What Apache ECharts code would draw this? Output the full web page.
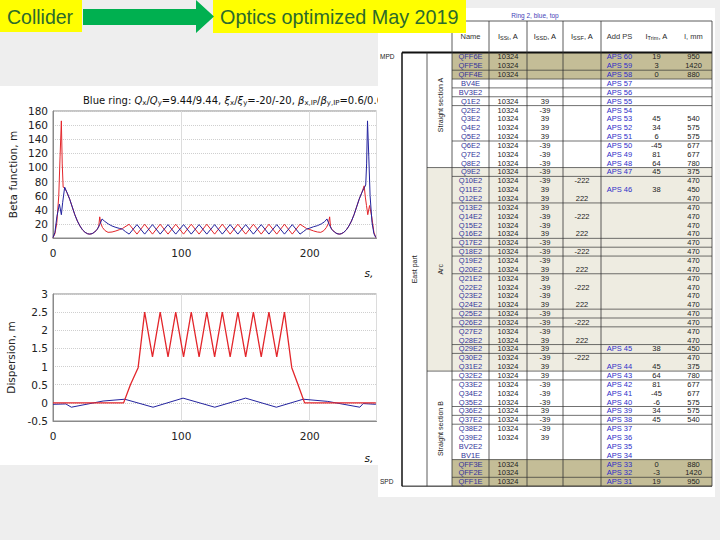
<!DOCTYPE html>
<html><head><meta charset="utf-8">
<script src="https://cdn.jsdelivr.net/npm/echarts@6/dist/echarts.min.js"></script>
<style>html,body{margin:0;padding:0;background:#fff}#c{width:720px;height:540px}</style>
</head><body><div id="c"></div>
<script>
// ---------- Beta functions (s in m, beta in m) ----------
const sBx = [0,1.5,3,4.5,5.5,6.5,7.2,7.9,9.1,11,13,15,17,19,21,23,25,27,28.6,30.5,32.5,34.5,35.6,36.4,37.2,38.5,40.5,42.9,46,49,52,54.1,59.3,
  65.4,71.4,77.5,83.5,89.6,95.6,101.7,107.7,113.8,119.8,125.9,131.9,138,144,150.1,156.1,162.2,168.2,174.3,180.3,186.4,192.4,
  197.5,200,203,206,208.6,211,213,214.6,215.5,216.2,217.2,219.2,221.2,223,224.5,226.5,228.5,230.5,232.5,234.5,236.5,238.5,240.5,
  242.4,243.3,244.2,245.2,246.6,248.3,250,251.5];
const betaX = [0.6,6,22,60,115,166,105,72,71,64,55,44,33,24,17,11.5,8,6,5.5,6.2,8.5,12.5,16,30,21,15,10.5,8,8.5,10,12,13.5,19.5,
  5.5,19.5,5.5,19.5,5.5,19.5,5.5,19.5,5.5,19.5,5.5,19.5,5.5,19.5,5.5,19.5,5.5,19.5,5.5,19.5,5.5,19.5,
  13.5,12,10,8.5,8,10.5,15,21,30,16,12.5,8.5,6.2,5.5,6,8,11.5,17,24,33,44,55,64,
  74,58,46,33,46,30,8,0.6];
const sBy = [0,1.5,3,5,6.5,7.5,9.1,11,13,15,17,19,21,23,25,27,28.6,30.5,32.5,34.5,36.4,38.2,40,43,46,49,52,54.1,56.5,59.3,
  65.4,71.4,77.5,83.5,89.6,95.6,101.7,107.7,113.8,119.8,125.9,131.9,138,144,150.1,156.1,162.2,168.2,174.3,180.3,186.4,192.4,
  195,197.5,200,203,206,209,211.5,213.4,215.2,217,219.2,221.2,223,224.5,226.5,228.5,230.5,232.5,234.5,236.5,238.5,240.5,
  242.4,243.6,244.3,245,246,247,248.5,250,251.5];
const betaY = [0.6,8,30,48,33,50,72,64,55,44,33,24,17,11.5,8,6,5.5,6.2,8.5,12.5,19,27,24,20,17,15,13.5,12.5,9,5.5,
  19,5.5,19,5.5,19,5.5,19,5.5,19,5.5,19,5.5,19,5.5,19,5.5,19,5.5,19,5.5,19,5.5,
  9,12.5,14,16,17.5,20,23,27,19,12.5,8.5,6.2,5.5,6,8,11.5,17,24,33,44,55,64,
  71,75,105,166,115,60,22,6,0.6];
// ---------- Dispersion ----------
const sDx = [0,55,60.3,66.3,71.4,77.5,83.5,89.6,95.6,101.7,107.7,113.8,119.8,125.9,131.9,138,144,150.1,156.1,162.2,168.2,174.3,180.3,186,190.9,196,251.5];
const dispX = [0,0,0.5,0.97,2.5,1.27,2.5,1.27,2.5,1.27,2.5,1.27,2.5,1.27,2.5,1.27,2.5,1.27,2.5,1.27,2.5,1.27,2.5,0.97,0.5,0,0];
const sDy = [0,10,14.3,39,55.9,77.9,101.3,126,150,174,194.9,214,239,241.6,251.5];
const dispY = [-0.04,-0.03,-0.12,0.05,0.1,-0.12,0.13,-0.12,0.13,-0.12,0.1,0.04,-0.12,-0.02,-0.04];

// ---------- Table ----------
const tblHeader = ['Name','I|SSt|, A','I|SSD|, A','I|SSF|, A','Add PS','I|Trim|, A','l, mm'];
const tblNames = ['QFF6E','QFF5E','QFF4E','BV4E','BV3E2','Q1E2','Q2E2','Q3E2','Q4E2','Q5E2','Q6E2','Q7E2','Q8E2',
  'Q9E2','Q10E2','Q11E2','Q12E2','Q13E2','Q14E2','Q15E2','Q16E2','Q17E2','Q18E2','Q19E2','Q20E2','Q21E2','Q22E2','Q23E2',
  'Q24E2','Q25E2','Q26E2','Q27E2','Q28E2','Q29E2','Q30E2','Q31E2',
  'Q32E2','Q33E2','Q34E2','Q35E2','Q36E2','Q37E2','Q38E2','Q39E2','BV2E2','BV1E','QFF3E','QFF2E','QFF1E'];
const tblI1 = ['10324','10324','10324','','','10324','10324','10324','10324','10324','10324','10324','10324',
  '10324','10324','10324','10324','10324','10324','10324','10324','10324','10324','10324','10324','10324','10324','10324',
  '10324','10324','10324','10324','10324','10324','10324','10324',
  '10324','10324','10324','10324','10324','10324','10324','10324','','','10324','10324','10324'];
const tblI2 = ['','','','','','39','-39','39','39','39','-39','-39','-39',
  '-39','-39','39','39','39','-39','-39','39','-39','-39','-39','39','39','-39','-39',
  '39','-39','-39','-39','39','39','-39','39',
  '39','-39','-39','-39','39','-39','-39','39','','','','',''];
const tblI3 = ['','','','','','','','','','','','','',
  '','-222','','222','','-222','','222','','-222','','222','','-222','',
  '222','','-222','','222','','-222','',
  '','','','','','','','','','','','',''];
const tblPS = ['APS 60','APS 59','APS 58','APS 57','APS 56','APS 55','APS 54','APS 53','APS 52','APS 51','APS 50','APS 49','APS 48',
  'APS 47','','APS 46','','','','','','','','','','','','',
  '','','','','','APS 45','','APS 44',
  'APS 43','APS 42','APS 41','APS 40','APS 39','APS 38','APS 37','APS 36','APS 35','APS 34','APS 33','APS 32','APS 31'];
const tblTrim = ['19','3','0','','','','','45','34','6','-45','81','64',
  '45','','38','','','','','','','','','','','','',
  '','','','','','38','','45',
  '64','81','-45','-6','34','45','','','','','0','-3','19'];
const tblLen = ['950','1420','880','','','','','540','575','575','677','677','780',
  '375','470','450','470','470','470','470','470','470','470','470','470','470','470','470',
  '470','470','470','470','470','450','470','375',
  '780','677','677','575','575','540','','','','','880','1420','950'];

const zip = (a, b) => a.map((v, i) => [v, b[i]]);
const FONT = 'DejaVu Sans';
const RED = '#e3262b', BLUE = '#23239e';

const G = [];
function rect(x, y, w, h, fill, z, stroke) {
  G.push({type:'rect', z:z, silent:true, shape:{x:x, y:y, width:w, height:h},
    style:{fill:fill, stroke:stroke || null, lineWidth:stroke ? 1 : 0}});
}
function hl(x1, y1, x2, y2, w, color, z) {
  G.push({type:'line', z:z || 12, silent:true, shape:{x1:x1, y1:y1, x2:x2, y2:y2},
    style:{stroke:color || '#222', lineWidth:w || 0.8}});
}
function txt(x, y, t, o) {
  o = o || {};
  const st = {text:t, x:0, y:0, fill:o.color || '#222',
    textAlign:o.align || 'center', textVerticalAlign:o.va || 'middle',
    align:o.align || 'center', verticalAlign:o.va || 'middle'};
  if (o.rich) { st.rich = o.rich; st.fontSize = o.size || 7.5; st.fontFamily = o.family || 'Liberation Sans'; }
  else { st.font = (o.style || '') + ' ' + (o.size || 7.5) + 'px "' + (o.family || 'Liberation Sans') + '"'; }
  G.push({type:'text', z:o.z || 13, silent:true, x:x, y:y, rotation:o.rot || 0, style:st});
}

// slide background areas
const GREY = '#eeeeee';
rect(0, 0, 378, 86, GREY, 10);
rect(0, 465, 378, 75, GREY, 10);
rect(378, 497, 342, 43, GREY, 10);
rect(715, 0, 5, 540, GREY, 10);
rect(378, 0, 342, 8, GREY, 10);
// table picture
rect(378, 8, 337, 489, '#ffffff', 10);

const TOP = 52.5, RH = 8.85, NR = tblNames.length, BOT = TOP + NR * RH;
const CX = [470.5, 508, 545, 582, 619.5, 656.5, 693.5];
// shading
rect(427, TOP + 13 * RH, 712 - 427, 23 * RH, '#eeece1', 11);
rect(452, TOP, 260, 3 * RH, '#c4bd97', 11);
rect(452, TOP + 46 * RH, 260, 3 * RH, '#c4bd97', 11);
// rules
const rowRules = [1,2,3,4,5,9,12,13,16,20,21,22,24,28,29,30,32,33,35,36,39,40,41,45,47];
rowRules.forEach(i => {
  const y = TOP + (i + 1) * RH;
  hl((i === 12 || i === 35) ? 427 : 452, y, 712, y, 0.7, '#333');
});
hl(402, TOP, 712, TOP, 2, '#111');
hl(402, BOT, 712, BOT, 1, '#111');
hl(452, 21, 712, 21, 0.8, '#333');
hl(402, TOP, 402, BOT, 1.5, '#111');
hl(427, TOP, 427, BOT, 0.8, '#333');
[452, 489, 527, 563, 601, 712].forEach(x => hl(x, 21, x, BOT, 0.8, '#333'));

// header
txt(535, 15, 'Ring 2, blue, top', {color:'#4343b8', size:6.5});
const hrich = {m:{fontSize:7.5, fontFamily:'Liberation Sans', color:'#333'}, s:{fontSize:5.5, fontFamily:'Liberation Sans', color:'#333', padding:[4,0,0,0]}};
tblHeader.forEach((h, j) => {
  const p = h.split('|');
  if (p.length === 3) txt(CX[j], 36, '{m|' + p[0] + '}{s|' + p[1] + '}{m|' + p[2] + '}', {rich:hrich});
  else txt(CX[j], 36, h, {color:'#333'});
});
// side labels
txt(380, TOP + 0.5 * RH, 'MPD', {align:'left', size:6.5});
txt(380, BOT - 0.5 * RH, 'SPD', {align:'left', size:6.5});
txt(414.5, TOP + 24.5 * RH, 'East part', {rot:Math.PI / 2, size:7});
txt(440, 105, 'Straight section A', {rot:Math.PI / 2, size:7});
txt(440, TOP + 24.5 * RH, 'Arc', {rot:Math.PI / 2, size:7});
txt(440, TOP + 42.5 * RH, 'Straight section B', {rot:Math.PI / 2, size:7});
// rows
for (let i = 0; i < NR; i++) {
  const y = TOP + (i + 0.5) * RH;
  txt(CX[0], y, tblNames[i], {color:'#34349a'});
  txt(CX[1], y, tblI1[i]);
  txt(CX[2], y, tblI2[i]);
  txt(CX[3], y, tblI3[i]);
  txt(CX[4], y, tblPS[i], {color:'#2e2ec8'});
  txt(CX[5], y, tblTrim[i]);
  txt(CX[6], y, tblLen[i]);
}

// header banner
rect(0, 0, 82, 32, '#ffff00', 20);
rect(213, 0, 253, 33, '#ffff00', 20);
G.push({type:'polygon', z:20, silent:true,
  shape:{points:[[83,9],[196,9],[196,0],[214,16.5],[196,33],[196,25],[83,25]]}, style:{fill:'#00b050'}});
txt(7, 17, 'Collider', {align:'left', size:19.5, color:'#2c6b2c', z:21});
txt(220, 17, 'Optics optimized May 2019', {align:'left', size:19.8, color:'#2c6b2c', z:21});
// axis variable labels
txt(369, 273, 's,', {size:10.5, family:FONT, style:'italic', color:'#111'});
txt(369, 458, 's,', {size:10.5, family:FONT, style:'italic', color:'#111'});

const axLab = {color:'#222', fontSize:10.5, fontFamily:FONT};
const sub = {fontSize:7, fontFamily:FONT, color:'#111', padding:[5,0,0,0]};
const option = {
  backgroundColor:'#ffffff',
  animation:false,
  title:{
    text:'{n|Blue ring: }{i|Q}{s|x}{n|/}{i|Q}{s|y}{n|=9.44/9.44, }{i|ξ}{s|x}{n|/}{i|ξ}{s|y}{n|=-20/-20, }{i|β}{s|x,IP}{n|/}{i|β}{s|y,IP}{n|=0.6/0.6}',
    left:78, top:89,
    textStyle:{fontSize:10, fontWeight:'normal', fontFamily:FONT, color:'#111',
      rich:{n:{fontSize:10, fontFamily:FONT, color:'#111'},
            i:{fontSize:10, fontFamily:FONT, fontStyle:'italic', color:'#111'},
            s:sub}}
  },
  grid:[
    {left:53, top:111, width:323.5, height:127, show:true, borderColor:'#8a8a8a', borderWidth:1, containLabel:false},
    {left:53, top:294, width:323.5, height:127, show:true, borderColor:'#8a8a8a', borderWidth:1, containLabel:false}
  ],
  xAxis:[0, 1].map(g => ({
    gridIndex:g, type:'value', min:0, max:252, interval:100,
    axisLine:{show:true, onZero:false, lineStyle:{color:'#8a8a8a'}}, axisTick:{show:false},
    axisLabel:Object.assign({margin:9, showMaxLabel:false}, axLab),
    splitLine:{show:true, lineStyle:{color:'#dcdcdc', width:1}}
  })),
  yAxis:[
    {gridIndex:0, type:'value', min:0, max:180, interval:20,
     name:'Beta function, m', nameLocation:'middle', nameGap:35, nameRotate:90,
     nameTextStyle:{fontSize:10.5, fontFamily:FONT, color:'#222'},
     axisLine:{show:true, lineStyle:{color:'#8a8a8a'}}, axisTick:{show:false},
     axisLabel:Object.assign({margin:5}, axLab),
     splitLine:{show:true, lineStyle:{color:'#cfcfcf', type:'dotted'}}},
    {gridIndex:1, type:'value', min:-0.5, max:3, interval:0.5,
     name:'Dispersion, m', nameLocation:'middle', nameGap:37, nameRotate:90,
     nameTextStyle:{fontSize:10.5, fontFamily:FONT, color:'#222'},
     axisLine:{show:true, lineStyle:{color:'#8a8a8a'}}, axisTick:{show:false},
     axisLabel:Object.assign({margin:5}, axLab),
     splitLine:{show:true, lineStyle:{color:'#cfcfcf', type:'dotted'}}}
  ],
  series:[
    {type:'line', name:'betaX', xAxisIndex:0, yAxisIndex:0, data:zip(sBx, betaX), showSymbol:false, symbol:'none',
     lineStyle:{color:RED, width:1}, z:3},
    {type:'line', name:'betaY', xAxisIndex:0, yAxisIndex:0, data:zip(sBy, betaY), showSymbol:false, symbol:'none',
     lineStyle:{color:BLUE, width:1}, z:4},
    {type:'line', name:'Dy', xAxisIndex:1, yAxisIndex:1, data:zip(sDy, dispY), showSymbol:false, symbol:'none',
     lineStyle:{color:BLUE, width:1}, z:3},
    {type:'line', name:'Dx', xAxisIndex:1, yAxisIndex:1, data:zip(sDx, dispX), showSymbol:false, symbol:'none',
     lineStyle:{color:RED, width:1.3}, z:4}
  ],
  graphic:{elements:G}
};
const chart = echarts.init(document.getElementById('c'), null, {renderer:'svg'});
chart.setOption(option);
</script></body></html>
